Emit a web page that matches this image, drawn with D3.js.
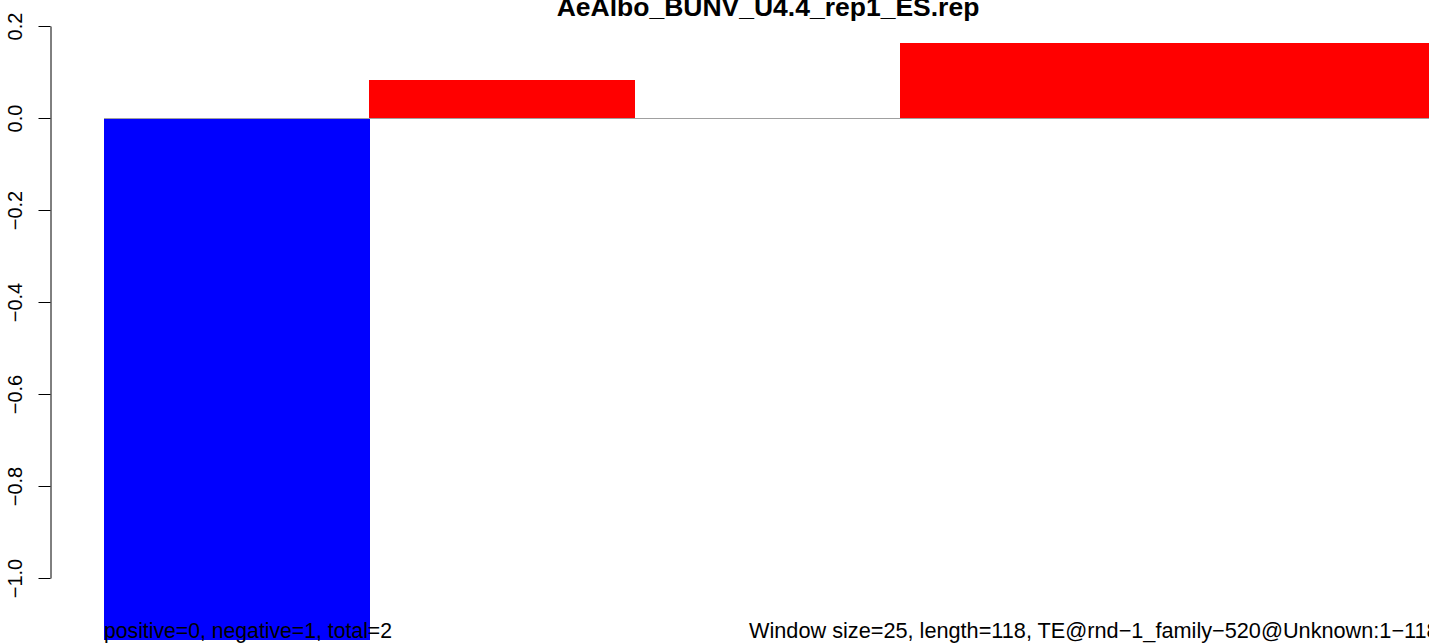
<!DOCTYPE html>
<html><head><meta charset="utf-8">
<script src="https://cdn.jsdelivr.net/npm/d3@7"></script>
<style>html,body{margin:0;padding:0;background:#fff;overflow:hidden}svg{display:block}text{font-family:"Liberation Sans",Arial,sans-serif}</style>
</head><body>
<script>
const windows = ["1","2","3","4","5"];
const values = [-1.135, 0.083, 0, 0.163, 0.163];
const yTicks = [0.2, 0.0, -0.2, -0.4, -0.6, -0.8, -1.0];
const title = "AeAlbo_BUNV_U4.4_rep1_ES.rep";
const leftNote = "positive=0, negative=1, total=2";
const rightNote = "Window size=25, length=118, TE@rnd\u22121_family\u2212520@Unknown:1\u2212118";

const W = 1429, H = 643;
const svg = d3.select("body").append("svg").attr("width", W).attr("height", H);

const x = d3.scaleBand().domain(windows).range([104, 1431]).padding(0);
const y = d3.scaleLinear().domain([-1.0, 0.2]).range([578, 26]);

// bars
svg.append("g").attr("shape-rendering", "crispEdges")
  .selectAll("rect").data(values).join("rect")
  .attr("x", (d, i) => x(windows[i]))
  .attr("width", x.bandwidth() + 0.5)
  .attr("y", d => y(Math.max(0, d)))
  .attr("height", d => Math.abs(y(d) - y(0)))
  .attr("fill", d => d < 0 ? "#0000ff" : "#ff0000");

// zero line
svg.append("line")
  .attr("x1", x(windows[0])).attr("x2", W)
  .attr("y1", y(0) + 0.5).attr("y2", y(0) + 0.5)
  .attr("stroke", "#a0a0a0").attr("stroke-width", 1);

// y axis
const ax = svg.append("g").attr("transform", "translate(50.5,0)")
  .call(d3.axisLeft(y).tickValues(yTicks).tickSize(12).tickSizeOuter(0)
    .tickFormat(d3.format(".1f")));
ax.select(".domain").attr("stroke", "#000");
ax.selectAll(".tick line").attr("stroke", "#000");
ax.selectAll(".tick text")
  .attr("font-size", 20).attr("fill", "#000")
  .attr("text-anchor", "middle")
  .attr("x", null).attr("dy", null)
  .attr("transform", "translate(-28.5,0) rotate(-90)");

// title
svg.append("text").attr("x", 768).attr("y", 16)
  .attr("text-anchor", "middle").attr("font-weight", "bold").attr("font-size", 26.5)
  .text(title);

// notes
svg.append("text").attr("x", 104).attr("y", 638).attr("font-size", 21.2).text(leftNote);
svg.append("text").attr("x", 749).attr("y", 638).attr("font-size", 21.7).text(rightNote);
</script>
</body></html>
